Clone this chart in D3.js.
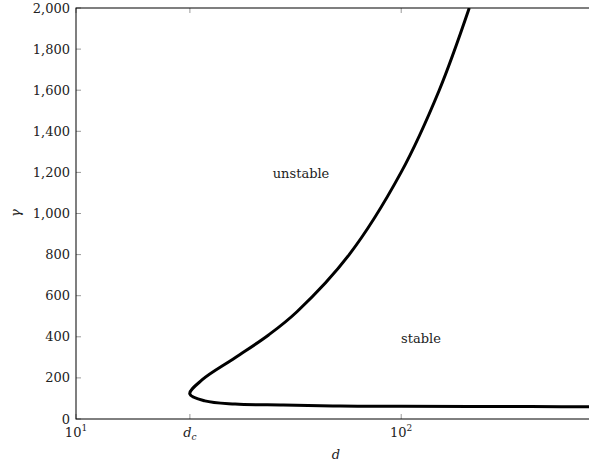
<!DOCTYPE html>
<html><head>
<meta charset="utf-8">
<script src="https://d3js.org/d3.v7.min.js"></script>
<style>
  body { margin: 0; background: #fff; }
  svg text { font-family: "DejaVu Serif", serif; font-size: 13px; fill: #222; }
  .frame { stroke: #000; stroke-width: 1px; fill: none; }
  .tick-mark { stroke: #999; stroke-width: 1px; }
  .boundary { stroke: #000; stroke-width: 3px; fill: none; }
</style>
</head>
<body>
<svg id="chart" width="589" height="466"></svg>
<script>
  // stability boundary (path order: lower branch -> nose -> upper branch)
  const gammaVals = [59.5, 60.5, 62, 63, 68, 73, 88, 122, 190, 298, 409, 522, 800, 1200, 1600, 2000];
  const dVals     = [450, 250, 100, 65, 43.4, 30.85, 24.9, 22.38, 24.4, 30.85, 39.1, 47.8, 69.2, 99.9, 130.9, 161.9];

  const dCrit = 22.4;
  const xTicks = [10, dCrit, 100];
  const yTicks = [0, 200, 400, 600, 800, 1000, 1200, 1400, 1600, 1800, 2000];
  const regionLabels = [
    {text: "unstable", d: 49.2, g: 1197},
    {text: "stable", d: 115, g: 394}
  ];

  const svg = d3.select("#chart");
  const plotLeft = 76, plotRight = 597, plotTop = 8, plotBottom = 419;

  const x = d3.scaleLog().domain([10, 400]).range([plotLeft, plotRight]);
  const y = d3.scaleLinear().domain([0, 2000]).range([plotBottom, plotTop]);

  svg.append("defs").append("clipPath").attr("id", "plotclip")
    .append("rect").attr("x", plotLeft).attr("y", plotTop)
    .attr("width", plotRight - plotLeft).attr("height", plotBottom - plotTop);

  // ticks (inward, grey)
  svg.selectAll(".ytick").data(yTicks).enter().append("line")
    .attr("class", "tick-mark")
    .attr("x1", plotLeft).attr("x2", plotLeft + 5)
    .attr("y1", d => y(d)).attr("y2", d => y(d));
  svg.selectAll(".xtick").data(xTicks).enter().append("line")
    .attr("class", "tick-mark")
    .attr("x1", d => x(d)).attr("x2", d => x(d))
    .attr("y1", plotBottom).attr("y2", plotBottom - 5);
  svg.selectAll(".xtick-top").data(xTicks).enter().append("line")
    .attr("class", "tick-mark")
    .attr("x1", d => x(d)).attr("x2", d => x(d))
    .attr("y1", plotTop).attr("y2", plotTop + 5);

  // frame
  svg.append("rect").attr("class", "frame")
    .attr("x", plotLeft).attr("y", plotTop)
    .attr("width", plotRight - plotLeft).attr("height", plotBottom - plotTop);

  // y labels
  svg.selectAll(".ylab").data(yTicks).enter().append("text")
    .attr("x", plotLeft - 6).attr("y", d => y(d))
    .attr("dy", "0.35em").attr("text-anchor", "end")
    .text(d => d3.format(",")(d));

  // x labels
  xTicks.forEach(v => {
    const t = svg.append("text").attr("x", x(v)).attr("y", plotBottom + 18)
      .attr("text-anchor", "middle");
    if (v === dCrit) {
      t.append("tspan").attr("font-style", "italic").text("d");
      t.append("tspan").attr("font-style", "italic").attr("font-size", "9px").attr("dy", 3).text("c");
    } else {
      t.append("tspan").text("10");
      t.append("tspan").attr("font-size", "9px").attr("dy", -6).text(Math.round(Math.log10(v)));
    }
  });

  // axis titles
  svg.append("text").attr("x", 336).attr("y", 459)
    .attr("text-anchor", "middle").attr("font-style", "italic").text("d");
  svg.append("text").attr("transform", "translate(20,213) rotate(-90)")
    .attr("text-anchor", "middle").attr("font-style", "italic").text("γ");

  // region labels
  svg.selectAll(".region").data(regionLabels).enter().append("text")
    .attr("x", d => x(d.d)).attr("y", d => y(d.g))
    .attr("dy", "0.35em").attr("text-anchor", "middle")
    .text(d => d.text);

  // boundary curve
  const pts = gammaVals.map((g, i) => [dVals[i], g]);
  const line = d3.line()
    .x(d => x(d[0])).y(d => y(d[1]))
    .curve(d3.curveCatmullRom.alpha(0.5));
  svg.append("path").datum(pts)
    .attr("class", "boundary")
    .attr("clip-path", "url(#plotclip)")
    .attr("d", line);
</script>
</body>
</html>
